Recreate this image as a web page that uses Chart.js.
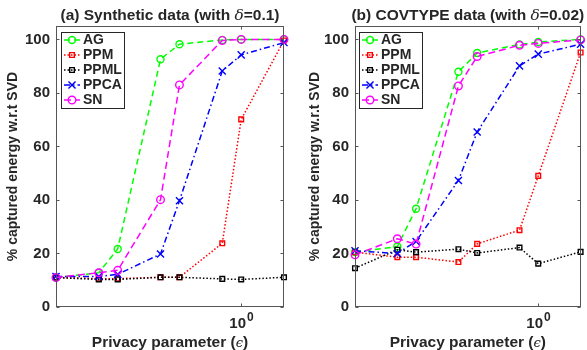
<!DOCTYPE html>
<html><head><meta charset="utf-8">
<script src="https://cdn.jsdelivr.net/npm/chart.js@4.4.1/dist/chart.umd.min.js"></script>
<style>
html,body{margin:0;padding:0;background:#fff;}
#wrap{position:relative;width:587px;height:350px;overflow:hidden;background:#fff;}
canvas{position:absolute;top:0;}
</style></head><body>
<div id="wrap">
<canvas id="ca" width="295" height="350" style="left:0"></canvas>
<canvas id="cb" width="292" height="350" style="left:295px"></canvas>
</div>
<script>
// ---- data ----
const epsilon = [0.0498, 0.0996, 0.1353, 0.2707, 0.3679, 0.7358, 1, 2];
const yTicks = [0, 20, 40, 60, 80, 100];
const seriesNames = ['AG', 'PPM', 'PPML', 'PPCA', 'SN'];

// (a) Synthetic data
const synAG   = [11.0, 12.8, 21.7, 92.6, 98.2, 99.8, 100, 100];
const synPPM  = [11.0, 10.6, 10.6, 11.1, 11.1, 23.8, 70.1, 99.6];
const synPPML = [11.0, 10.3, 10.3, 11.1, 11.1, 10.5, 10.3, 11.1];
const synPPCA = [11.4, 11.4, 12.2, 19.8, 39.7, 88.2, 94.2, 98.8];
const synSN   = [11.0, 12.8, 13.7, 40.1, 83.0, 99.6, 100, 100];

// (b) COVTYPE data
const covAG   = [20.5, 22.6, 36.7, 87.9, 94.9, 98.1, 99.0, 100];
const covPPM  = [20.5, 18.6, 18.6, 16.8, 23.6, 28.7, 49.0, 95.1];
const covPPML = [14.5, 21.4, 20.5, 21.6, 20.2, 22.2, 16.2, 20.6];
const covPPCA = [21.0, 20.0, 24.5, 47.3, 65.4, 90.1, 94.5, 98.2];
const covSN   = [19.5, 25.5, 23.5, 82.6, 93.6, 97.8, 98.5, 99.8];

// ---- styles ----
const SANS = '"Liberation Sans", Arial, Helvetica, sans-serif';
const SERIF = '"DejaVu Serif", "Liberation Serif", serif';
const TXT = '#262626';
const styles = {
  AG:   {color:'#00ff00', dash:[6,4], point:'circle', r:3.5},
  PPM:  {color:'#ff0000', dash:[1.5,2], point:'rect', r:3.3},
  PPML: {color:'#000000', dash:[1.5,2], point:'rect', r:3.3},
  PPCA: {color:'#0000ff', dash:[6,3,1.5,3], point:'crossRot', r:5},
  SN:   {color:'#ff00ff', dash:[7,4], point:'circle', r:3.8}
};

function makeDatasets(arrs){
  return seriesNames.map((n,i)=>{
    const s = styles[n];
    return {
      label:n,
      data: epsilon.map((x,j)=>({x:x, y:arrs[i][j]})),
      borderColor:s.color, backgroundColor:'rgba(0,0,0,0)',
      borderWidth:1.5, borderDash:s.dash,
      pointStyle:s.point, pointRadius:s.r, pointBorderWidth:1.4,
      pointBorderColor:s.color, pointBackgroundColor:'rgba(0,0,0,0)',
      tension:0, clip:false, order:4-i
    };
  });
}

function drawParts(ctx, parts, cx, baseline){
  let total = 0;
  parts.forEach(p=>{ ctx.font = p.f; p.w = ctx.measureText(p.t).width; total += p.w; });
  let x = cx - total/2;
  ctx.textAlign = 'left'; ctx.textBaseline = 'alphabetic';
  parts.forEach(p=>{ ctx.font = p.f; ctx.fillText(p.t, x, baseline - (p.dy||0)); x += p.w; });
}

function decorPlugin(cfg){
  return {
    id:'decor',
    afterDraw(chart){
      const ctx = chart.ctx;
      const {left,right,top,bottom} = chart.chartArea;
      const xs = chart.scales.x, ys = chart.scales.y;
      ctx.save();
      // box
      ctx.strokeStyle = '#555'; ctx.lineWidth = 1; ctx.setLineDash([]);
      const L = Math.round(left)+0.5, R = Math.round(right)-0.5, T = Math.round(top)+0.5, B = Math.round(bottom)-0.5;
      ctx.strokeRect(L, T, R-L, B-T);
      ctx.beginPath();
      yTicks.forEach(v=>{
        const y = Math.round(ys.getPixelForValue(v))+0.5;
        ctx.moveTo(L, y); ctx.lineTo(L+3, y);
        ctx.moveTo(R, y); ctx.lineTo(R-3, y);
      });
      const x1 = Math.round(xs.getPixelForValue(1))+0.5;
      ctx.moveTo(x1, B); ctx.lineTo(x1, B-3);
      ctx.moveTo(x1, T); ctx.lineTo(x1, T+3);
      ctx.stroke();

      ctx.fillStyle = TXT;
      // x tick label 10^0
      ctx.font = 'bold 15px '+SANS;
      const w10 = ctx.measureText('10').width;
      ctx.font = 'bold 12px '+SANS;
      const w0 = ctx.measureText('0').width;
      let sx = x1 - (w10+w0+1)/2;
      ctx.textAlign='left'; ctx.textBaseline='alphabetic';
      ctx.font = 'bold 15px '+SANS; ctx.fillText('10', sx, 328);
      ctx.font = 'bold 12px '+SANS; ctx.fillText('0', sx+w10+1, 321);

      // x axis title
      drawParts(ctx, [
        {t:'Privacy parameter (', f:'bold 15.5px '+SANS},
        {t:'\u03F5', f:'italic 13px '+SERIF},
        {t:')', f:'bold 15.5px '+SANS}
      ], (left+right)/2, 347);

      // title
      drawParts(ctx, [
        {t:cfg.title1, f:'bold 15.5px '+SANS},
        {t:'\u03B4', f:'italic 15.5px '+SERIF},
        {t:cfg.title2, f:'bold 15.5px '+SANS}
      ], (left+right)/2, 20);

      // y label
      ctx.save();
      ctx.translate(cfg.ylabX, (top+bottom)/2);
      ctx.rotate(-Math.PI/2);
      ctx.font = 'bold 14px '+SANS;
      ctx.textAlign='center'; ctx.textBaseline='middle';
      ctx.fillText('% captured energy w.r.t SVD', 0, 0);
      ctx.restore();

      // legend
      const bx = Math.round(left)+cfg.legDX, by = 32, bw = 63, bh = 76;
      ctx.fillStyle = '#fff';
      ctx.fillRect(bx, by, bw, bh);
      ctx.strokeStyle = '#262626'; ctx.lineWidth = 1;
      ctx.strokeRect(bx+0.5, by+0.5, bw, bh);
      seriesNames.forEach((n,i)=>{
        const s = styles[n];
        const y = 40 + i*15;
        ctx.strokeStyle = s.color; ctx.lineWidth = 1.5;
        ctx.setLineDash(s.dash);
        ctx.beginPath(); ctx.moveTo(bx+3, y); ctx.lineTo(bx+19, y); ctx.stroke();
        ctx.setLineDash([]);
        ctx.fillStyle = 'rgba(0,0,0,0)';
        ctx.lineWidth = 1.4;
        Chart.helpers.drawPoint(ctx, {pointStyle:s.point, radius:s.r, rotation:0, borderWidth:1.4}, bx+11, y);
        ctx.fillStyle = TXT;
        ctx.font = 'bold 14px '+SANS;
        ctx.textAlign='left'; ctx.textBaseline='middle';
        ctx.fillText(n, bx+22, y+0.5);
      });
      ctx.restore();
    }
  };
}

function makeChart(id, arrs, cfg){
  return new Chart(document.getElementById(id), {
    type:'line',
    data:{datasets: makeDatasets(arrs)},
    options:{
      responsive:false, animation:false, devicePixelRatio:1,
      layout:{padding:{top:26, right:cfg.padR, left:0, bottom:0}},
      plugins:{legend:{display:false}, tooltip:{enabled:false}, title:{display:false}},
      scales:{
        x:{type:'logarithmic', min:epsilon[0], max:epsilon[epsilon.length-1],
           grid:{display:false, drawTicks:false}, border:{display:false},
           ticks:{display:false},
           afterFit:s=>{s.height = 43;}},
        y:{type:'linear', min:0, max:105,
           grid:{display:false, drawTicks:false}, border:{display:false},
           afterBuildTicks:s=>{ s.ticks = yTicks.map(v=>({value:v})); },
           ticks:{color:TXT, padding:6, font:{family:SANS, size:15, weight:'bold'}},
           afterFit:s=>{s.width = cfg.yW;}}
      }
    },
    plugins:[decorPlugin(cfg)]
  });
}

makeChart('ca', [synAG, synPPM, synPPML, synPPCA, synSN],
  {title1:'(a) Synthetic data (with ', title2:'=0.1)', ylabX:13, legDX:5, padR:11, yW:56});
makeChart('cb', [covAG, covPPM, covPPML, covPPCA, covSN],
  {title1:'(b) COVTYPE data (with ', title2:'=0.02)', ylabX:20, legDX:4, padR:5, yW:60});
</script>
</body></html>
